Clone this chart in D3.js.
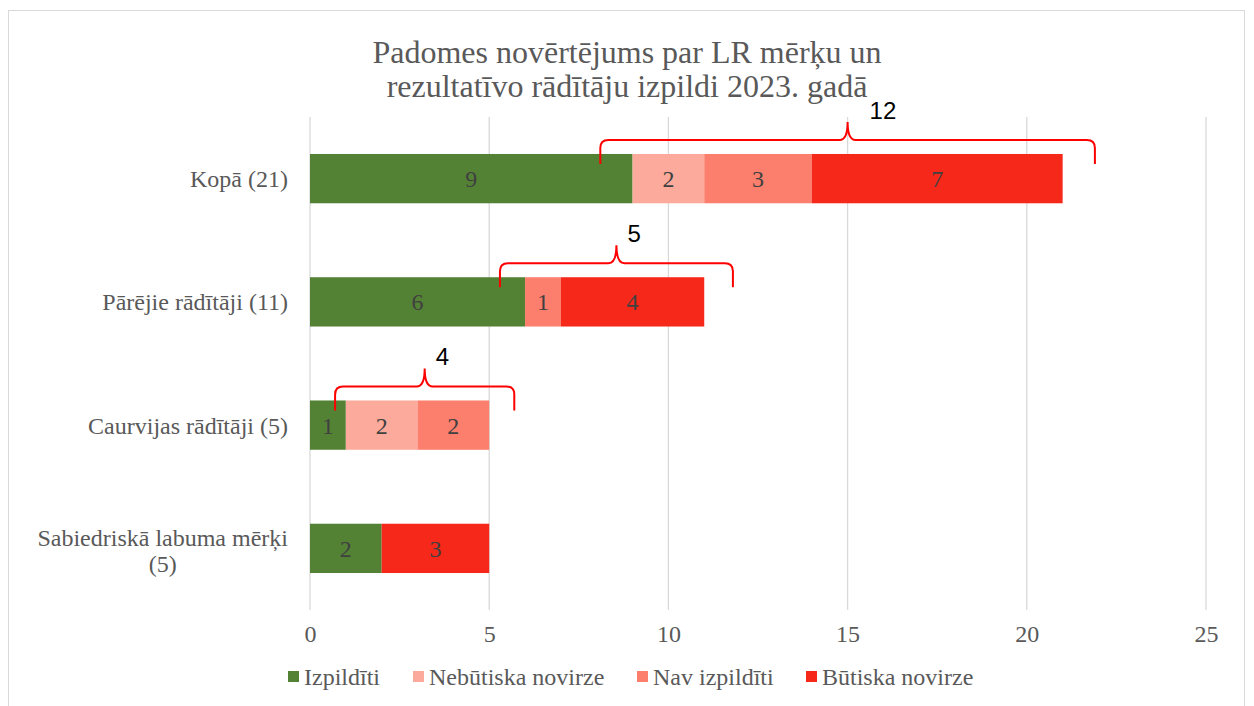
<!DOCTYPE html>
<html>
<head>
<meta charset="utf-8">
<script src="https://cdn.jsdelivr.net/npm/d3@7"></script>
<style>
  body { margin: 0; background: #fff; }
  svg { display: block; }
</style>
</head>
<body>
<svg width="1254" height="706"></svg>
<script>
// chart data
let categories = ["Kopā (21)", "Pārējie rādītāji (11)", "Caurvijas rādītāji (5)", "Sabiedriskā labuma mērķi (5)"];
let seriesNames = ["Izpildīti", "Nebūtiska novirze", "Nav izpildīti", "Būtiska novirze"];
let izpilditi = [9, 6, 1, 2];
let nebutiska = [2, 0, 2, 0];
let navIzpilditi = [3, 1, 2, 0];
let butiska = [7, 4, 0, 3];
let xTicks = [0, 5, 10, 15, 20, 25];
// brace annotations (span in axis units) for the first three rows
let braceFrom = [8.1, 5.3, 0.7];
let braceTo = [21.9, 11.8, 5.7];

let colors = ["#548235", "#FBAA9B", "#FC7E6C", "#F5281A"];
let textGray = "#595959";
let serif = "'Liberation Serif', 'Times New Roman', serif";

let svg = d3.select("svg");

// outer frame
svg.append("rect")
    .attr("x", 8.5).attr("y", 10.5)
    .attr("width", 1236).attr("height", 720)
    .attr("fill", "none").attr("stroke", "#D9D9D9").attr("stroke-width", 1);

// title
let title = svg.append("text")
    .attr("text-anchor", "middle")
    .style("font-family", serif).style("font-size", "32px")
    .attr("fill", textGray);
title.append("tspan").attr("x", 627).attr("y", 63).text("Padomes novērtējums par LR mērķu un");
title.append("tspan").attr("x", 627).attr("y", 97).text("rezultatīvo rādītāju izpildi 2023. gadā");

let plot = { left: 310, top: 117, bottom: 610 };

let xScale = d3.scaleLinear().domain([0, 25]).range([310, 1206]);
let yScale = d3.scaleBand().domain(categories).range([plot.top, plot.bottom])
    .paddingInner(0.6).paddingOuter(0.3);

// gridlines
svg.append("g").selectAll("line")
    .data(xTicks)
    .enter().append("line")
    .attr("x1", d => xScale(d)).attr("x2", d => xScale(d))
    .attr("y1", plot.top).attr("y2", plot.bottom)
    .attr("stroke", "#D9D9D9").attr("stroke-width", 1.3);

// x axis labels
let xAxis = d3.axisBottom(xScale).tickValues(xTicks).tickSize(0).tickPadding(15);
let xg = svg.append("g").attr("transform", "translate(0," + plot.bottom + ")").call(xAxis);
xg.select(".domain").remove();
xg.selectAll("text").style("font-family", serif).style("font-size", "24px").attr("fill", textGray);

// stacked rows
let rows = categories.map((c, i) => ({
    cat: c,
    vals: [izpilditi[i], nebutiska[i], navIzpilditi[i], butiska[i]]
}));
let segs = [];
rows.forEach(r => {
    let acc = 0;
    r.vals.forEach((v, k) => {
        if (v > 0) segs.push({ cat: r.cat, k: k, x0: acc, x1: acc + v, v: v });
        acc += v;
    });
});

let bars = svg.append("g");
bars.selectAll("rect")
    .data(segs)
    .enter().append("rect")
    .attr("x", d => xScale(d.x0))
    .attr("y", d => yScale(d.cat))
    .attr("width", d => xScale(d.x1) - xScale(d.x0))
    .attr("height", yScale.bandwidth())
    .attr("fill", d => colors[d.k]);

bars.selectAll("text")
    .data(segs)
    .enter().append("text")
    .attr("x", d => (xScale(d.x0) + xScale(d.x1)) / 2)
    .attr("y", d => yScale(d.cat) + yScale.bandwidth() / 2)
    .attr("dy", "0.35em")
    .attr("text-anchor", "middle")
    .style("font-family", serif).style("font-size", "24px")
    .attr("fill", "#404040")
    .text(d => d.v);

// category labels
let catG = svg.append("g");
categories.forEach((c, i) => {
    let yc = yScale(c) + yScale.bandwidth() / 2;
    let m = c.match(/^(.*mērķi) (\(\d+\))$/);
    if (m) {
        let t1 = catG.append("text")
            .attr("x", 288).attr("y", yc - 11).attr("dy", "0.35em")
            .attr("text-anchor", "end")
            .style("font-family", serif).style("font-size", "24px")
            .attr("fill", textGray).text(m[1]);
        let w = t1.node().getComputedTextLength();
        catG.append("text")
            .attr("x", 288 - w / 2).attr("y", yc + 15).attr("dy", "0.35em")
            .attr("text-anchor", "middle")
            .style("font-family", serif).style("font-size", "24px")
            .attr("fill", textGray).text(m[2]);
    } else {
        catG.append("text")
            .attr("x", 288).attr("y", yc).attr("dy", "0.35em")
            .attr("text-anchor", "end")
            .style("font-family", serif).style("font-size", "24px")
            .attr("fill", textGray).text(c);
    }
});

// curly braces over the not-fulfilled parts
function bracePath(xa, xb, yEnd, yMid, yPeak) {
    let xm = (xa + xb) / 2, r = 8;
    return "M" + xa + "," + yEnd +
        " L" + xa + "," + (yMid + r) +
        " Q" + xa + "," + yMid + " " + (xa + r) + "," + yMid +
        " L" + (xm - r) + "," + yMid +
        " Q" + xm + "," + yMid + " " + xm + "," + yPeak +
        " Q" + xm + "," + yMid + " " + (xm + r) + "," + yMid +
        " L" + (xb - r) + "," + yMid +
        " Q" + xb + "," + yMid + " " + xb + "," + (yMid + r) +
        " L" + xb + "," + yEnd;
}

let braces = svg.append("g");
braceFrom.forEach((f, i) => {
    let top = yScale(categories[i]);
    let xa = xScale(f), xb = xScale(braceTo[i]);
    let yEnd = top + 10, yMid = top - 14, yPeak = top - 32;
    braces.append("path")
        .attr("d", bracePath(xa, xb, yEnd, yMid, yPeak))
        .attr("fill", "none").attr("stroke", "#FF0000").attr("stroke-width", 2);
    let notDone = nebutiska[i] + navIzpilditi[i] + butiska[i];
    braces.append("text")
        .attr("x", (xa + xb) / 2 + 11 * String(notDone).length)
        .attr("y", yPeak - 3)
        .style("font-family", "'Liberation Sans', Arial, sans-serif").style("font-size", "24px")
        .attr("fill", "#000")
        .text(notDone);
});

// legend
let legendX = [288, 413, 637, 806];
let legend = svg.append("g");
seriesNames.forEach((n, k) => {
    legend.append("rect")
        .attr("x", legendX[k]).attr("y", 671)
        .attr("width", 11).attr("height", 11)
        .attr("fill", colors[k]);
    legend.append("text")
        .attr("x", legendX[k] + 16).attr("y", 677).attr("dy", "0.35em")
        .style("font-family", serif).style("font-size", "24px")
        .attr("fill", textGray).text(n);
});
</script>
</body>
</html>
